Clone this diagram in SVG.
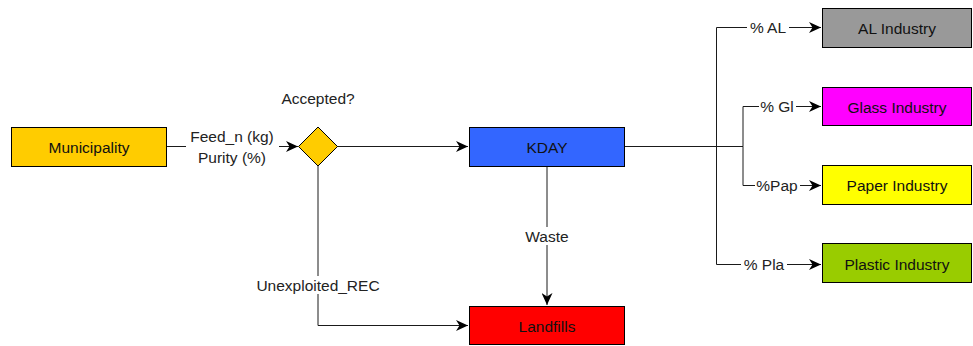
<svg xmlns="http://www.w3.org/2000/svg" width="973" height="346" viewBox="0 0 973 346">
<style>
.box{stroke:#000;stroke-width:1}
.t{font-family:"Liberation Sans",Arial,sans-serif;font-size:15.5px;fill:#111;text-anchor:middle;dominant-baseline:central}
.l{font-family:"Liberation Sans",Arial,sans-serif;font-size:15.5px;fill:#222;text-anchor:middle;dominant-baseline:central}
.c{fill:none;stroke:#1a1a1a;stroke-width:1}
.bg{fill:#fff}
</style>
<defs>
<marker id="a" markerWidth="13" markerHeight="11" refX="12" refY="5.5" orient="auto" markerUnits="userSpaceOnUse">
<path d="M0,0 L12,5.5 L0,11 L3.5,5.5 Z" fill="#000"/>
</marker>
</defs>
<rect width="973" height="346" fill="#fff"/>
<g id="connectors">
<path class="c" d="M167,146.5 H298" marker-end="url(#a)"/>
<path class="c" d="M337,146.5 H468" marker-end="url(#a)"/>
<path class="c" d="M318,166 V325.5 H468" marker-end="url(#a)"/>
<path class="c" d="M547,166 V305" marker-end="url(#a)"/>
<path class="c" d="M625,146.5 H743"/>
<path class="c" d="M716.5,146.5 V27.5 H821" marker-end="url(#a)"/>
<path class="c" d="M716.5,146.5 V264.5 H821" marker-end="url(#a)"/>
<path class="c" d="M743,146.5 V106.5 H821" marker-end="url(#a)"/>
<path class="c" d="M743,146.5 V185.5 H821" marker-end="url(#a)"/>
<rect class="bg" x="186" y="126" width="93" height="40"/>
<text class="l" x="232" y="136">Feed_n (kg)</text>
<text class="l" x="232" y="157">Purity (%)</text>
<rect class="bg" x="520" y="227" width="54" height="18"/>
<text class="l" x="547" y="236">Waste</text>
<rect class="bg" x="252" y="276" width="132" height="18"/>
<text class="l" x="318" y="285">Unexploited_REC</text>
<rect class="bg" x="747" y="18" width="42" height="18"/>
<text class="l" x="768" y="27">% AL</text>
<rect class="bg" x="759" y="97" width="37" height="18"/>
<text class="l" x="777" y="106">% Gl</text>
<rect class="bg" x="755" y="176" width="45" height="18"/>
<text class="l" x="777" y="185">%Pap</text>
<rect class="bg" x="741" y="255" width="46" height="18"/>
<text class="l" x="764" y="264">% Pla</text>
</g>
<g id="municipality">
<rect class="box" x="11.5" y="127.5" width="155" height="39" fill="#FFCC00"/>
<text class="t" x="89" y="147">Municipality</text>
</g>
<g id="accepted">
<path class="box" d="M318,127 L337.5,146.5 L318,166 L298.5,146.5 Z" fill="#FFCC00"/>
<text class="l" x="318" y="98">Accepted?</text>
</g>
<g id="kday">
<rect class="box" x="469.5" y="127.5" width="155" height="39" fill="#3366FF"/>
<text class="t" x="547" y="147">KDAY</text>
</g>
<g id="landfills">
<rect class="box" x="469.5" y="306.5" width="155" height="38" fill="#FF0000"/>
<text class="t" x="547" y="326">Landfills</text>
</g>
<g id="al">
<rect class="box" x="822.5" y="8.5" width="149" height="39" fill="#999999"/>
<text class="t" x="897" y="28">AL Industry</text>
</g>
<g id="glass">
<rect class="box" x="822.5" y="87.5" width="149" height="38" fill="#FF00FF"/>
<text class="t" x="897" y="107">Glass Industry</text>
</g>
<g id="paper">
<rect class="box" x="822.5" y="165.5" width="149" height="39" fill="#FFFF00"/>
<text class="t" x="897" y="185">Paper Industry</text>
</g>
<g id="plastic">
<rect class="box" x="822.5" y="243.5" width="149" height="39" fill="#99CC00"/>
<text class="t" x="897" y="264">Plastic Industry</text>
</g>
</svg>
